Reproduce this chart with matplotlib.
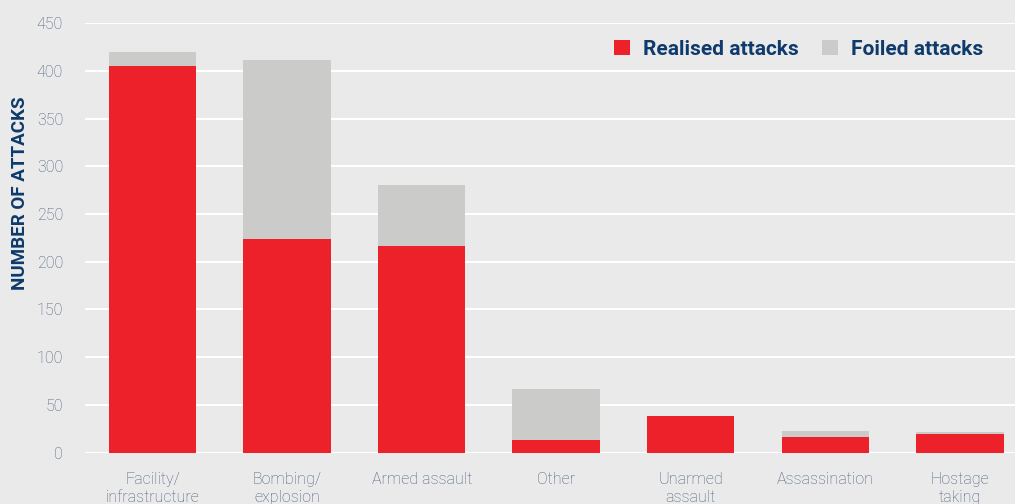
import matplotlib
matplotlib.use("Agg")
import matplotlib.pyplot as plt
import numpy as np

categories = ["Facility/\ninfrastructure", "Bombing/\nexplosion", "Armed assault", "Other",
              "Unarmed\nassault", "Assassination", "Hostage\ntaking"]
realised = [405, 224, 216, 13, 38, 16, 20]
foiled = [15, 187, 64, 54, 0, 7, 2]

red = "#ED2129"
grey = "#CBCBC9"
bg = "#EAEAEA"
navy = "#0E3A6C"
tick_col = "#4D5E7C"

plt.rcParams["font.family"] = ["Roboto", "DejaVu Sans"]

fig = plt.figure(figsize=(10.15, 5.04), dpi=100, facecolor=bg)
ax = fig.add_axes([0.084, 0.102, 0.916, 0.852], facecolor=bg)

x = np.arange(len(categories))
ax.bar(x, realised, width=0.65, color=red, label="Realised attacks", zorder=3)
ax.bar(x, foiled, width=0.65, bottom=realised, color=grey, label="Foiled attacks", zorder=3)

ax.set_ylim(0, 450)
ax.set_xlim(-0.5, 6.41)
ax.set_yticks(range(0, 451, 50))
ax.set_xticks(x)
ax.set_xticklabels(categories, fontsize=11.5, color=tick_col, fontweight="light", linespacing=1.25)
for t in ax.get_yticklabels():
    t.set_fontsize(11.5)
    t.set_color(tick_col)
    t.set_fontweight("light")
ax.tick_params(axis="both", length=0)
ax.tick_params(axis="y", pad=16)
ax.tick_params(axis="x", pad=14)
ax.grid(axis="y", color="white", linewidth=1.5, zorder=0)
ax.set_axisbelow(True)
for s in ax.spines.values():
    s.set_visible(False)

ax.set_ylabel("NUMBER OF ATTACKS", fontsize=13.5, fontweight="bold", color=navy)
ax.yaxis.set_label_coords(-0.061, 0.604)

leg = ax.legend(loc="upper right", ncol=2, frameon=False, fontsize=15,
                handlelength=0.75, handleheight=0.75, columnspacing=1.15, handletextpad=0.62,
                bbox_to_anchor=(0.986, 1.005))
for t in leg.get_texts():
    t.set_color(navy)
    t.set_fontweight("bold")

fig.savefig("out.png", dpi=100, facecolor=bg)
